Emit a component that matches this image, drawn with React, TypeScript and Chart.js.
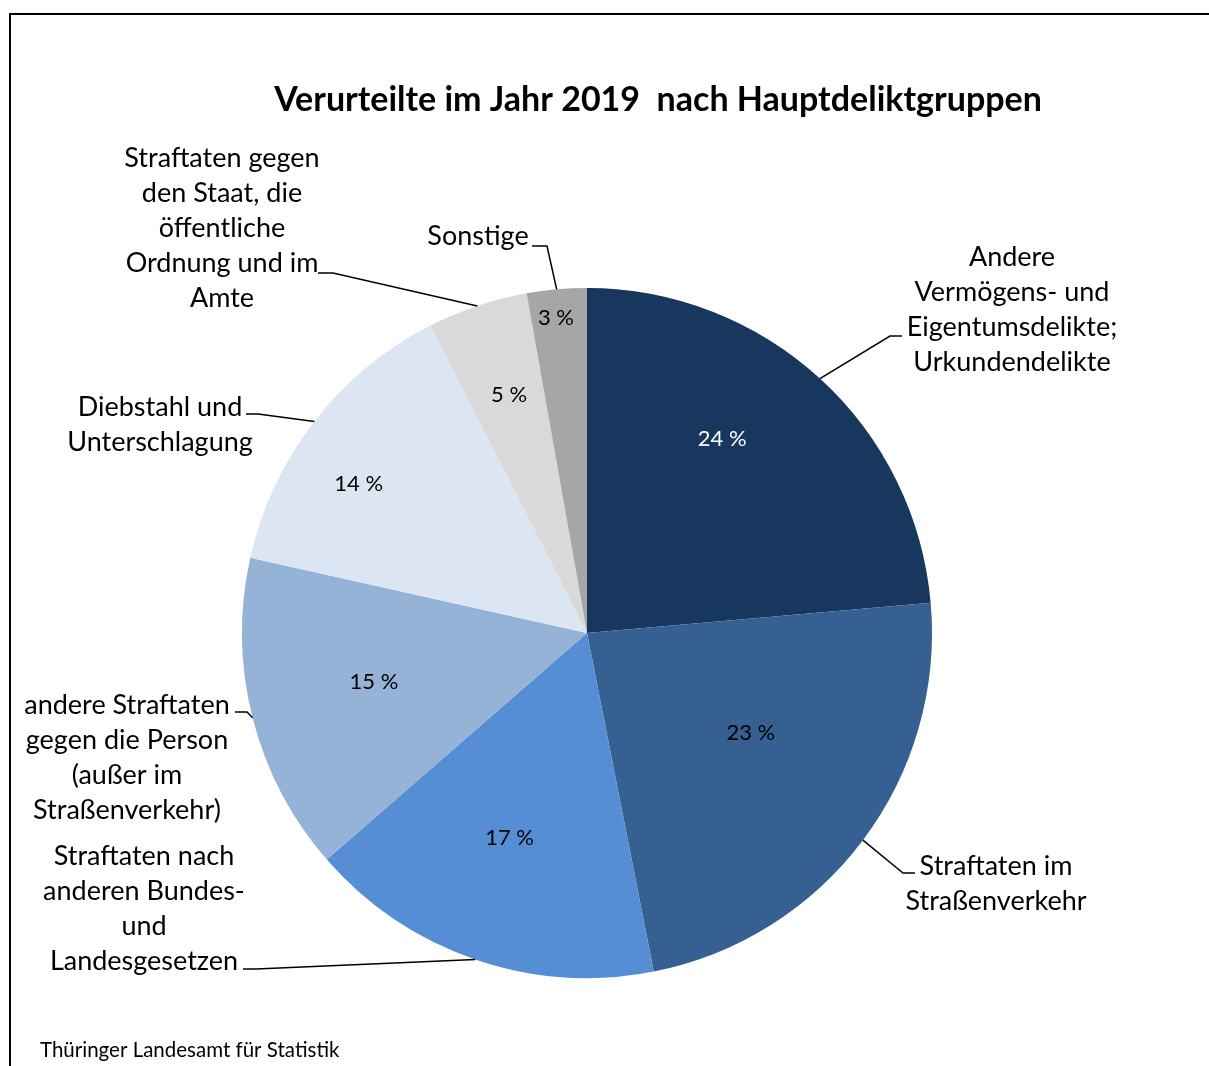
import React, { useEffect, useRef } from "react";
import { Chart, registerables } from "chart.js";

Chart.register(...registerables);

const TITLE = "Verurteilte im Jahr 2019  nach Hauptdeliktgruppen";
const SOURCE = "Thüringer Landesamt für Statistik";

const categories = [
  "Andere Vermögens- und Eigentumsdelikte; Urkundendelikte",
  "Straftaten im Straßenverkehr",
  "Straftaten nach anderen Bundes- und Landesgesetzen",
  "andere Straftaten gegen die Person (außer im Straßenverkehr)",
  "Diebstahl und Unterschlagung",
  "Straftaten gegen den Staat, die öffentliche Ordnung und im Amte",
  "Sonstige",
];

const categoryLines = [
  ["Andere", "Vermögens- und", "Eigentumsdelikte;", "Urkundendelikte"],
  ["Straftaten im", "Straßenverkehr"],
  ["Straftaten nach", "anderen Bundes-", "und", "Landesgesetzen"],
  ["andere Straftaten", "gegen die Person", "(außer im", "Straßenverkehr)"],
  ["Diebstahl und", "Unterschlagung"],
  ["Straftaten gegen", "den Staat, die", "öffentliche", "Ordnung und im", "Amte"],
  ["Sonstige"],
];

const values = [23.6, 23.3, 16.7, 14.9, 14.0, 4.7, 2.8];
const percentLabels = ["24 %", "23 %", "17 %", "15 %", "14 %", "5 %", "3 %"];

const colors = ["#17375e", "#366092", "#558ed5", "#95b3d7", "#dce6f2", "#d9d9d9", "#a6a6a6"];
const percentTextColors = ["#ffffff", "#000000", "#000000", "#000000", "#000000", "#000000", "#000000"];

// percent label placement: [angle offset from slice mid (deg), radius fraction]
const percentPlacement: [number, number][] = [
  [-7.6, 0.685],
  [-5.4, 0.557],
  [1.8, 0.635],
  [1.2, 0.634],
  [-4.7, 0.79],
  [0.4, 0.726],
  [-0.6, 0.917],
];

// category label text block: [center x, first line center y]
const labelBlocks: [number, number][] = [
  [1012, 257],
  [996, 866],
  [144, 856],
  [127, 705],
  [160, 407],
  [222, 158],
  [478, 236],
];

// leader line elbows after the arc anchor
const leaderPaths: [number, number][][] = [
  [[890, 336], [902, 336]],
  [[903, 873], [915, 873]],
  [[256, 969], [243, 969]],
  [[247, 712], [235, 712]],
  [[258, 414], [246, 414]],
  [[333, 273], [318, 273]],
  [[547, 246], [532, 246]],
];

const FONT = "Lato, 'Open Sans', sans-serif";

const decorPlugin = {
  id: "decor",
  beforeDraw(chart: any) {
    const ctx = chart.ctx as CanvasRenderingContext2D;
    ctx.save();
    ctx.fillStyle = "#ffffff";
    ctx.fillRect(0, 0, chart.width, chart.height);
    ctx.strokeStyle = "#000000";
    ctx.lineWidth = 2;
    ctx.beginPath();
    ctx.moveTo(10, chart.height);
    ctx.lineTo(10, 14);
    ctx.lineTo(chart.width, 14);
    ctx.stroke();
    ctx.restore();
  },
  afterDraw(chart: any) {
    const ctx = chart.ctx as CanvasRenderingContext2D;
    const meta = chart.getDatasetMeta(0);
    ctx.save();
    // title
    ctx.fillStyle = "#000000";
    ctx.font = `bold 34px ${FONT}`;
    ctx.textAlign = "center";
    ctx.textBaseline = "middle";
    ctx.fillText(TITLE, 658, 100);
    // source
    ctx.font = `20.5px ${FONT}`;
    ctx.textAlign = "left";
    ctx.fillText(SOURCE, 40, 1050);

    meta.data.forEach((arc: any, i: number) => {
      const { x, y, startAngle, endAngle, outerRadius } = arc.getProps(
        ["x", "y", "startAngle", "endAngle", "outerRadius"],
        true
      );
      const mid = (startAngle + endAngle) / 2;
      // percent label
      const [dAng, frac] = percentPlacement[i];
      const a = mid + (dAng * Math.PI) / 180;
      const px = x + Math.cos(a) * outerRadius * frac;
      const py = y + Math.sin(a) * outerRadius * frac;
      ctx.font = `22px ${FONT}`;
      ctx.textAlign = "center";
      ctx.textBaseline = "middle";
      ctx.fillStyle = percentTextColors[i];
      ctx.fillText(percentLabels[i], px, py);

      // leader line
      const ax = x + Math.cos(mid) * outerRadius;
      const ay = y + Math.sin(mid) * outerRadius;
      ctx.strokeStyle = "#000000";
      ctx.lineWidth = 1.5;
      ctx.beginPath();
      ctx.moveTo(ax, ay);
      leaderPaths[i].forEach(([lx, ly]) => ctx.lineTo(lx, ly));
      ctx.stroke();

      // category label
      const [cx, cy] = labelBlocks[i];
      ctx.font = `27px ${FONT}`;
      ctx.fillStyle = "#000000";
      categoryLines[i].forEach((line, j) => {
        ctx.fillText(line, cx, cy + j * 35);
      });
    });
    ctx.restore();
  },
};

export default function App() {
  const ref = useRef<HTMLCanvasElement | null>(null);
  useEffect(() => {
    document.body.style.margin = "0";
    const canvas = ref.current;
    if (!canvas) return;
    const chart = new Chart(canvas, {
      type: "pie",
      data: {
        labels: categories,
        datasets: [
          {
            data: values,
            backgroundColor: colors,
            borderWidth: 0,
            hoverOffset: 0,
          },
        ],
      },
      options: {
        responsive: false,
        animation: false,
        events: [],
        layout: { padding: { left: 242, right: 277, top: 288, bottom: 88 } },
        plugins: {
          legend: { display: false },
          title: { display: false },
          tooltip: { enabled: false },
        },
      },
      plugins: [decorPlugin],
    });
    return () => chart.destroy();
  }, []);
  return (
    <div style={{ width: 1209, height: 1066 }}>
      <canvas ref={ref} width={1209} height={1066} style={{ display: "block" }} />
    </div>
  );
}
